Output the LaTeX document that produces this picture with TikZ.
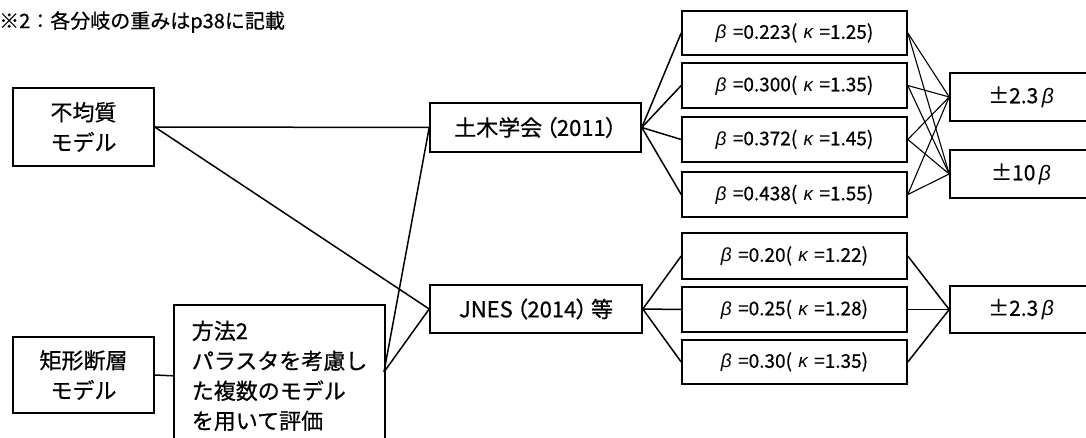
\documentclass[tikz,border=0pt]{standalone}
\usepackage{fontspec}
\setmainfont{Noto Sans CJK JP}[FakeBold=0.6,BoldFont={Noto Sans CJK JP}]
\newfontfamily\paltfont{Noto Sans CJK JP}[FakeBold=0.6,RawFeature=+palt]
\newfontfamily\grkfont{Liberation Sans}
\newcommand\symb{{\grkfont\itshape β}}
\newcommand\symk{{\grkfont\itshape κ}}
\newcommand\bklab[2]{\symb\,\,=#1(\,\,\symk\,\,=#2)}
\begin{document}
\begin{tikzpicture}[x=1pt,y=-1pt,
  box/.style={draw=black,line width=1.6pt,inner sep=0pt,align=center,
    font=\fontsize{22}{30}\selectfont},
  bbox/.style={draw=black,line width=1.6pt,inner sep=0pt,
    minimum width=225pt,font=\fontsize{19}{24}\selectfont},
  pbox/.style={draw=black,line width=1.6pt,inner sep=0pt,
    minimum width=142pt,minimum height=48pt,font=\fontsize{21}{24}\selectfont},
  conn/.style={line width=1.5pt},
  thin/.style={line width=1.1pt}]
\useasboundingbox (0,0) rectangle (1086,438);
\clip (0,0) rectangle (1086,438);
% note
\node[anchor=west,inner sep=0pt,font=\fontsize{20}{24}\selectfont] (note) at (-1,22) {※2：各分岐の重みはp38に記載};
% left boxes
\node[box,minimum width=141pt,minimum height=78pt] (fk) at (83.5,127) {不均質\\モデル};
\node[box,minimum width=141pt,minimum height=76pt] (rk) at (83.5,375) {矩形断層\\モデル};
\node[box,anchor=north west,align=left,text width=175pt,inner xsep=18pt,
  minimum height=142pt] (m2) at (173,304) {方法2\\パラスタを考慮し\\た複数のモデル\\を用いて評価};
\coordinate (m2r) at (384,372);
% middle boxes
\node[box,minimum width=211pt,minimum height=49pt] (dk) at (535.5,127.5) {土木学会{\paltfont\,（2011）}};
\node[box,minimum width=212pt,minimum height=48pt] (jn) at (536,309) {JNES{\paltfont\,（2014）\,}等};
% beta boxes
\node[bbox,minimum height=44pt] (b1) at (794.5,33) {\bklab{0.223}{1.25}};
\node[bbox,minimum height=45pt] (b2) at (794.5,85.5) {\bklab{0.300}{1.35}};
\node[bbox,minimum height=45pt] (b3) at (794.5,139.5) {\bklab{0.372}{1.45}};
\node[bbox,minimum height=45pt] (b4) at (794.5,194.5) {\bklab{0.438}{1.55}};
\node[bbox,minimum height=46pt] (c1) at (794.5,256) {\bklab{0.20}{1.22}};
\node[bbox,minimum height=45pt] (c2) at (794.5,309.5) {\bklab{0.25}{1.28}};
\node[bbox,minimum height=44pt] (c3) at (794.5,362) {\bklab{0.30}{1.35}};
% plus-minus boxes
\node[pbox] (p1) at (1021,97) {±2.3\,\symb};
\node[pbox] (p2) at (1021,174) {±10\,\symb};
\node[pbox,minimum height=47pt] (p3) at (1021,309.5) {±2.3\,\symb};
% connectors
\draw[conn] (fk.east) -- (dk.west);
\draw[conn] (fk.east) -- (jn.west);
\draw[conn] (rk.east) -- (m2.west);
\draw[conn] (m2r) -- (dk.west);
\draw[conn] (m2r) -- (jn.west);
\foreach \n in {b1,b2,b3,b4} {
  \draw[conn] (dk.east) -- (\n.west);
  \draw[thin] (\n.east) -- (p1.west);
  \draw[thin] (\n.east) -- (p2.west);
}
\foreach \n in {c1,c2,c3} {
  \draw[conn] (jn.east) -- (\n.west);
  \draw[conn] (\n.east) -- (p3.west);
}
\end{tikzpicture}
\end{document}
